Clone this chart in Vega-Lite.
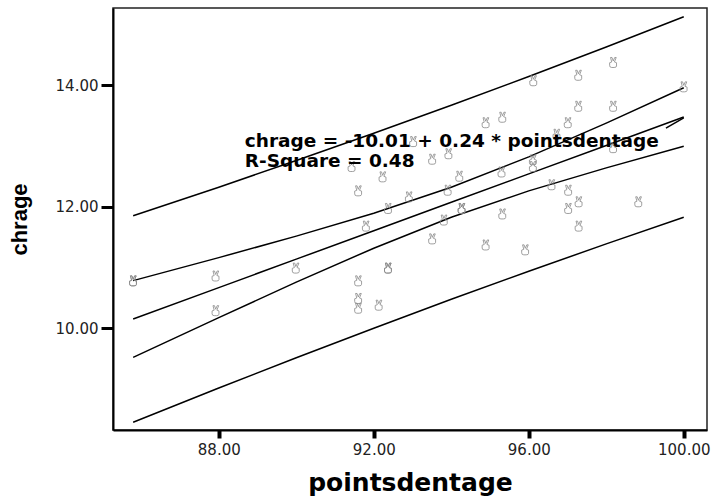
{
  "$schema": "https://vega.github.io/schema/vega-lite/v6.json",
  "width": 594,
  "height": 422,
  "autosize": {"type": "none"},
  "padding": {"left": 113, "top": 8, "right": 4, "bottom": 68},
  "background": "white",
  "config": {
    "view": {"stroke": "#222", "strokeWidth": 1.5},
    "axis": {"grid": false}
  },
  "datasets": {
    "bands": [
      {"series": "pi_up", "x": 85.79, "y": 11.851}, {"series": "pi_up", "x": 88, "y": 12.32}, {"series": "pi_up", "x": 90, "y": 12.758}, {"series": "pi_up", "x": 92, "y": 13.206}, {"series": "pi_up", "x": 94, "y": 13.667}, {"series": "pi_up", "x": 96, "y": 14.14}, {"series": "pi_up", "x": 98, "y": 14.624}, {"series": "pi_up", "x": 100, "y": 15.122},
      {"series": "ci_up", "x": 85.79, "y": 10.784}, {"series": "ci_up", "x": 88, "y": 11.162}, {"series": "ci_up", "x": 90, "y": 11.515}, {"series": "ci_up", "x": 92, "y": 11.891}, {"series": "ci_up", "x": 94, "y": 12.319}, {"series": "ci_up", "x": 96, "y": 12.819}, {"series": "ci_up", "x": 98, "y": 13.374}, {"series": "ci_up", "x": 100, "y": 13.955},
      {"series": "fit", "x": 85.79, "y": 10.153}, {"series": "fit", "x": 88, "y": 10.669}, {"series": "fit", "x": 90, "y": 11.137}, {"series": "fit", "x": 92, "y": 11.604}, {"series": "fit", "x": 94, "y": 12.072}, {"series": "fit", "x": 96, "y": 12.539}, {"series": "fit", "x": 98, "y": 13.006}, {"series": "fit", "x": 100, "y": 13.474},
      {"series": "ci_lo", "x": 85.79, "y": 9.522}, {"series": "ci_lo", "x": 88, "y": 10.176}, {"series": "ci_lo", "x": 90, "y": 10.759}, {"series": "ci_lo", "x": 92, "y": 11.317}, {"series": "ci_lo", "x": 94, "y": 11.825}, {"series": "ci_lo", "x": 96, "y": 12.259}, {"series": "ci_lo", "x": 98, "y": 12.638}, {"series": "ci_lo", "x": 100, "y": 12.993},
      {"series": "pi_lo", "x": 85.79, "y": 8.455}, {"series": "pi_lo", "x": 88, "y": 9.018}, {"series": "pi_lo", "x": 90, "y": 9.516}, {"series": "pi_lo", "x": 92, "y": 10.002}, {"series": "pi_lo", "x": 94, "y": 10.477}, {"series": "pi_lo", "x": 96, "y": 10.938}, {"series": "pi_lo", "x": 98, "y": 11.388}, {"series": "pi_lo", "x": 100, "y": 11.826},
      {"series": "leader", "x": 99.54, "y": 13.29}, {"series": "leader", "x": 100.0, "y": 13.46}
    ],
    "points": [
      {"x": 85.79, "y": 10.78}, {"x": 85.79, "y": 10.78}, {"x": 87.92, "y": 10.86}, {"x": 87.92, "y": 10.29}, {"x": 89.99, "y": 10.99},
      {"x": 91.6, "y": 10.78}, {"x": 91.6, "y": 10.49}, {"x": 91.6, "y": 10.33}, {"x": 92.13, "y": 10.38}, {"x": 92.37, "y": 10.99}, {"x": 92.37, "y": 10.99},
      {"x": 91.6, "y": 12.26}, {"x": 91.43, "y": 12.66}, {"x": 91.8, "y": 11.68}, {"x": 92.23, "y": 12.49}, {"x": 92.37, "y": 11.97},
      {"x": 92.91, "y": 12.16}, {"x": 93.02, "y": 13.07}, {"x": 93.51, "y": 12.78}, {"x": 93.51, "y": 11.47}, {"x": 93.81, "y": 11.78},
      {"x": 93.91, "y": 12.27}, {"x": 93.93, "y": 12.87}, {"x": 94.21, "y": 12.5}, {"x": 94.27, "y": 11.97}, {"x": 94.27, "y": 11.97},
      {"x": 94.89, "y": 13.38}, {"x": 94.89, "y": 11.37}, {"x": 95.32, "y": 13.47}, {"x": 95.3, "y": 12.57}, {"x": 95.32, "y": 11.88},
      {"x": 95.91, "y": 11.29}, {"x": 96.12, "y": 14.07}, {"x": 96.11, "y": 12.77}, {"x": 96.11, "y": 12.66}, {"x": 96.59, "y": 12.36},
      {"x": 96.72, "y": 13.19}, {"x": 97.01, "y": 13.38}, {"x": 97.02, "y": 12.27}, {"x": 97.02, "y": 11.97}, {"x": 97.28, "y": 14.16},
      {"x": 97.28, "y": 13.65}, {"x": 97.29, "y": 12.08}, {"x": 97.29, "y": 11.68}, {"x": 98.18, "y": 14.37}, {"x": 98.18, "y": 13.65},
      {"x": 98.18, "y": 12.97}, {"x": 98.83, "y": 12.08}, {"x": 100.0, "y": 13.97}
    ],
    "labels": [
      {"x": 88.67, "y": 12.986, "label": "chrage = -10.01 + 0.24 * pointsdentage"},
      {"x": 88.67, "y": 12.657, "label": "R-Square = 0.48"}
    ]
  },
  "layer": [
    {
      "data": {"name": "bands"},
      "mark": {"type": "line", "color": "black", "strokeWidth": 1.5},
      "encoding": {
        "x": {
          "field": "x", "type": "quantitative",
          "scale": {"domain": [85.27, 100.6], "nice": false, "zero": false},
          "axis": {
            "values": [88, 92, 96, 100], "format": ".2f",
            "title": "pointsdentage",
            "titleFont": "DejaVu Sans", "titleFontWeight": "bold", "titleFontSize": 25, "titleColor": "black", "titlePadding": 13,
            "labelFont": "DejaVu Sans", "labelFontSize": 15, "labelColor": "#222", "labelPadding": 4,
            "tickSize": 8, "tickWidth": 4, "tickColor": "black",
            "domainColor": "black", "domainWidth": 2
          }
        },
        "y": {
          "field": "y", "type": "quantitative",
          "scale": {"domain": [8.328, 15.266], "nice": false, "zero": false},
          "axis": {
            "values": [10, 12, 14], "format": ".2f",
            "title": "chrage",
            "titleFont": "Liberation Sans", "titleFontWeight": "bold", "titleFontSize": 22, "titleColor": "black", "titlePadding": 24,
            "labelFont": "DejaVu Sans", "labelFontSize": 15, "labelColor": "#222", "labelPadding": 3,
            "tickSize": 12, "tickWidth": 3, "tickColor": "black",
            "domainColor": "black", "domainWidth": 2
          }
        },
        "detail": {"field": "series"},
        "order": {"field": "x"}
      }
    },
    {
      "data": {"name": "points"},
      "mark": {
        "type": "point",
        "shape": "M-0.54,-1 L-0.24,-1 L0,-0.3 L0.3,-1 L0.6,-1 L0.24,-0.1 L0.66,0.05 L0.66,0.7 Q0.66,1 0.18,1 L-0.3,1 Q-0.72,1 -0.72,0.6 L-0.72,0.05 L-0.3,-0.1 Z",
        "size": 100,
        "filled": false,
        "stroke": "#888",
        "strokeWidth": 0.8,
        "opacity": 1
      },
      "encoding": {
        "x": {"field": "x", "type": "quantitative"},
        "y": {"field": "y", "type": "quantitative"}
      }
    },
    {
      "data": {"name": "labels"},
      "mark": {"type": "text", "align": "left", "baseline": "alphabetic", "font": "DejaVu Sans", "fontWeight": "bold", "fontSize": 18.5, "color": "black"},
      "encoding": {
        "x": {"field": "x", "type": "quantitative"},
        "y": {"field": "y", "type": "quantitative"},
        "text": {"field": "label"}
      }
    }
  ]
}
